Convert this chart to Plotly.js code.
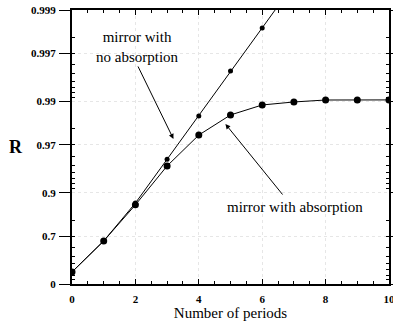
<!DOCTYPE html>
<html>
<head>
<meta charset="utf-8">
<script src="https://cdn.plot.ly/plotly-3.0.1.min.js"></script>
<style>html,body{margin:0;padding:0;background:#fff;}#chart{width:393px;height:326px;}</style>
</head>
<body>
<div id="chart"></div>
<script>
// Number of periods
var periodsLossless = [0, 1, 2, 3, 4, 5, 6, 7];
var rLossless = [0.261, 0.662, 0.870, 0.957, 0.9855, 0.99535, 0.99843, 0.99948];
var periodsAbsorb = [0, 1, 2, 3, 4, 5, 6, 7, 8, 9, 10];
var rAbsorb = [0.261, 0.662, 0.864, 0.949, 0.9766, 0.9859, 0.98904, 0.98984, 0.99033, 0.99035, 0.99035];
// Y-axis tick labels (reflectance R)
var rTicks = [0, 0.7, 0.9, 0.97, 0.99, 0.997, 0.999];
var rTickText = ['0', '0.7', '0.9', '0.97', '0.99', '0.997', '0.999'];
var xTicks = [0, 2, 4, 6, 8, 10];

function loss(arr) { return arr.map(function (r) { return +(1 - r).toFixed(6); }); }
var minorVals = [];
[1, 0.1, 0.01].forEach(function (d) {
  for (var k = 2; k <= 9; k++) minorVals.push(+(k * d / 10).toFixed(6));
});

var serif = '"Liberation Serif", "Times New Roman", "DejaVu Serif", serif';

var traces = [
  {
    x: periodsLossless, y: loss(rLossless), type: 'scatter', mode: 'lines+markers',
    line: {color: '#000', width: 1}, marker: {color: '#000', size: 5},
    hoverinfo: 'none', showlegend: false
  },
  {
    x: periodsAbsorb, y: loss(rAbsorb), type: 'scatter', mode: 'lines+markers',
    line: {color: '#000', width: 1}, marker: {color: '#000', size: 7},
    hoverinfo: 'none', showlegend: false
  }
];

var layout = {
  width: 393, height: 326,
  margin: {l: 72, r: 4, t: 10, b: 42},
  paper_bgcolor: '#fff', plot_bgcolor: '#fff',
  font: {family: serif, color: '#000'},
  xaxis: {
    range: [0, 10], tickmode: 'array', tickvals: xTicks,
    ticks: 'inside', ticklen: 5, tickwidth: 1, tickcolor: '#000',
    minor: {dtick: 0.5, ticks: 'inside', ticklen: 3, tickcolor: '#000', showgrid: false},
    showline: true, linecolor: '#000', linewidth: 2, mirror: 'allticks',
    showgrid: true, gridcolor: '#e6e6e6', griddash: 'dot', gridwidth: 1,
    zeroline: false, ticklabeloverflow: 'allow', ticklabelstandoff: 4,
    tickfont: {family: serif, size: 11, color: '#000', weight: 'bold'},
    title: {text: 'Number of periods', font: {family: serif, size: 15, color: '#000'}, standoff: 3}
  },
  yaxis: {
    type: 'log', range: [0, -3],
    tickmode: 'array', tickvals: loss(rTicks), ticktext: rTickText,
    ticks: 'outside', ticklen: 11, tickwidth: 1, tickcolor: '#000',
    minor: {tickmode: 'array', tickvals: minorVals, ticks: 'inside', ticklen: 3, tickcolor: '#000', showgrid: false},
    showline: true, linecolor: '#000', linewidth: 2, mirror: 'allticks',
    showgrid: true, gridcolor: '#e6e6e6', griddash: 'dot', gridwidth: 1,
    zeroline: false,
    tickfont: {family: serif, size: 11, color: '#000', weight: 'bold'},
    ticklabelstandoff: 1
  },
  annotations: [
    {xref: 'paper', yref: 'paper', x: -0.177, y: 0.5, text: '<b>R</b>', showarrow: false,
     font: {family: serif, size: 18, color: '#000'}, xanchor: 'center', yanchor: 'middle'},
    {xref: 'x', yref: 'y', x: 2.07, y: -2.595, text: 'mirror with<br>no absorption', showarrow: false,
     font: {family: serif, size: 15, color: '#000'}, align: 'center'},
    {xref: 'x', yref: 'y', x: 3.2, y: -1.588, axref: 'x', ayref: 'y', ax: 2.06, ay: -2.398,
     text: '', showarrow: true, arrowhead: 2, arrowsize: 1, arrowwidth: 1, arrowcolor: '#000'},
    {xref: 'x', yref: 'y', x: 7.03, y: -0.843, text: 'mirror with absorption', showarrow: false,
     font: {family: serif, size: 15, color: '#000'}, align: 'center'},
    {xref: 'x', yref: 'y', x: 4.84, y: -1.752, axref: 'x', ayref: 'y', ax: 6.68, ay: -0.9635,
     text: '', showarrow: true, arrowhead: 2, arrowsize: 1, arrowwidth: 1, arrowcolor: '#000'}
  ]
};

Plotly.newPlot('chart', traces, layout, {staticPlot: true, displayModeBar: false});
</script>
</body>
</html>
